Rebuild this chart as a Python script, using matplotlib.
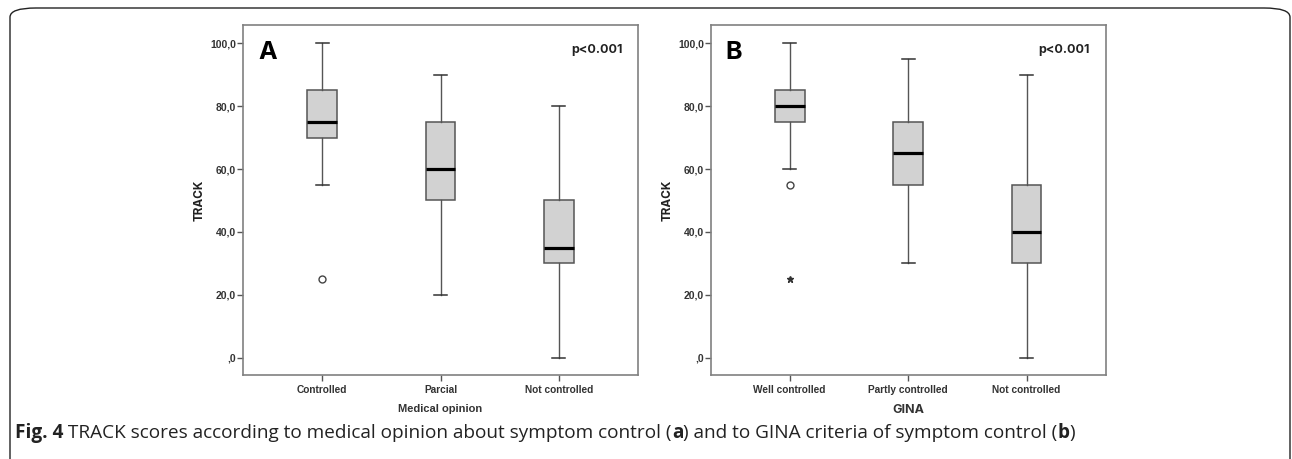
import matplotlib
matplotlib.use('Agg')
import matplotlib.pyplot as plt
from matplotlib.patches import FancyBboxPatch

# panel A - medical opinion
cats_a = ['Controlled', 'Parcial', 'Not controlled']
wlo_a = [55, 20, 0]
q1_a = [70, 50, 30]
med_a = [75, 60, 35]
q3_a = [85, 75, 50]
whi_a = [100, 90, 80]
fliers_a = [[25], [], []]
stars_a = [[], [], []]

# panel B - GINA
cats_b = ['Well controlled', 'Partly controlled', 'Not controlled']
wlo_b = [60, 30, 0]
q1_b = [75, 55, 30]
med_b = [80, 65, 40]
q3_b = [85, 75, 55]
whi_b = [100, 95, 90]
fliers_b = [[55], [], []]
stars_b = [[25], [], []]

yticks = [0, 20, 40, 60, 80, 100]
ytick_labels = [',0', '20,0', '40,0', '60,0', '80,0', '100,0']

NARROW = ['Liberation Sans', 'DejaVu Sans']
WIDE = ['Inter', 'DejaVu Sans']
W, H = 1292, 459


def box_panel(ax, cats, wlo, q1, med, q3, whi, fliers, stars, letter, xlabel, xlab_fam, xlab_size):
    stats = []
    for i in range(len(cats)):
        stats.append({'whislo': wlo[i], 'q1': q1[i], 'med': med[i], 'q3': q3[i],
                      'whishi': whi[i], 'fliers': fliers[i], 'label': cats[i]})
    pos = list(range(1, len(cats) + 1))
    ax.bxp(stats, positions=pos, widths=0.25, capwidths=0.11, patch_artist=True,
           boxprops=dict(facecolor='#d2d2d2', edgecolor='#555555', linewidth=1.1),
           whiskerprops=dict(color='#555555', linewidth=1.0),
           capprops=dict(color='#333333', linewidth=1.1),
           medianprops=dict(color='black', linewidth=2.3),
           flierprops=dict(marker='o', markerfacecolor='white', markeredgecolor='#444444',
                           markersize=5, markeredgewidth=1.0))
    for p, s in zip(pos, stars):
        if s:
            ax.plot([p] * len(s), s, marker='*', color='#333333', markersize=5, linestyle='none')
    ax.set_xlim(0.333, 3.667)
    ax.set_ylim(-5.5, 105.8)
    ax.set_yticks(yticks)
    ax.set_yticklabels(ytick_labels, fontsize=7.5, fontweight='bold', family=NARROW, color='#333333')
    ax.set_xticks(pos)
    ax.set_xticklabels(cats, fontsize=7.3, fontweight='bold', family=NARROW, color='#333333')
    ax.tick_params(axis='y', length=4.5, width=1.0, color='#555555', pad=0.5)
    ax.tick_params(axis='x', length=4.5, width=1.0, color='#555555', pad=3)
    for sp in ax.spines.values():
        sp.set_color('#808080')
        sp.set_linewidth(1.2)
    ax.set_ylabel('TRACK', fontsize=8.5, fontweight='bold', family=WIDE, color='#222222', labelpad=3)
    ax.set_xlabel(xlabel, fontsize=xlab_size, fontweight='bold', family=xlab_fam, color='#333333',
                  labelpad=6)
    ax.text(0.038, 0.955, letter, transform=ax.transAxes, fontsize=18, fontweight='bold',
            family=WIDE, va='top', ha='left')
    ax.text(0.96, 0.928, 'p<0.001', transform=ax.transAxes, fontsize=9, fontweight='bold',
            family=WIDE, va='center', ha='right', color='#222222')


fig = plt.figure(figsize=(W / 100, H / 100), dpi=100)
fig.patch.set_facecolor('white')

# rounded outer frame, open at the bottom edge of the image
frame = FancyBboxPatch((10 / W, -30 / H), 1280 / W, (H - 8 + 30) / H,
                       boxstyle='round,pad=0,rounding_size=0.02', transform=fig.transFigure,
                       facecolor='none', edgecolor='#222222', linewidth=1.0)
fig.patches.append(frame)

ax1 = fig.add_axes([243 / W, 1 - 375 / H, 395 / W, 350 / H])
box_panel(ax1, cats_a, wlo_a, q1_a, med_a, q3_a, whi_a, fliers_a, stars_a, 'A',
          'Medical opinion', NARROW, 8)
ax2 = fig.add_axes([710.7 / W, 1 - 375 / H, 395 / W, 350 / H])
box_panel(ax2, cats_b, wlo_b, q1_b, med_b, q3_b, whi_b, fliers_b, stars_b, 'B', 'GINA', WIDE, 9)

# caption with mixed weights
fig.canvas.draw()
r = fig.canvas.get_renderer()
x = 15 / W
ycap = 1 - 433 / H
parts = [('Fig. 4', 'bold'), (' TRACK scores according to medical opinion about symptom control (', 'normal'),
         ('a', 'bold'),
         (') and to GINA criteria of symptom control (', 'normal'),
         ('b', 'bold'),
         (')', 'normal')]
for txt, w in parts:
    t = fig.text(x, ycap, txt, fontsize=13.7, fontweight=w, family='Open Sans',
                 va='center', ha='left', color='#222222')
    bb = t.get_window_extent(r)
    x = bb.x1 / W

fig.savefig('out.png', dpi=100)
